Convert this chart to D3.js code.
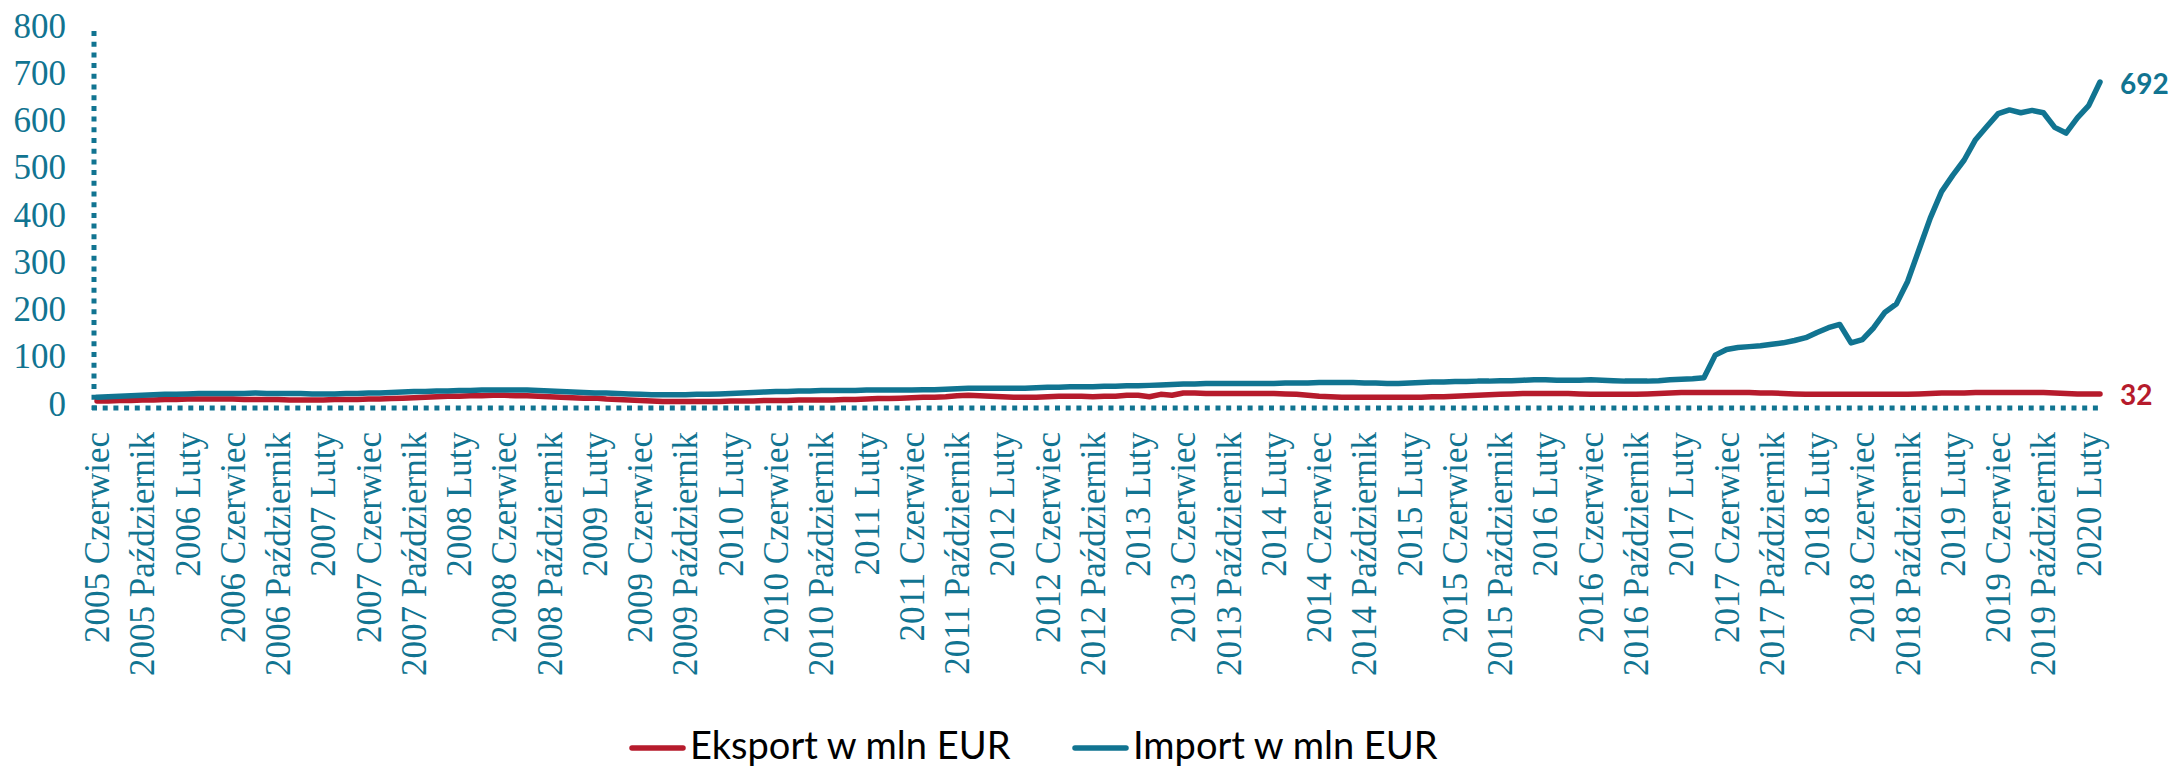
<!DOCTYPE html>
<html>
<head>
<meta charset="utf-8">
<script src="https://cdn.jsdelivr.net/npm/d3@7"></script>
<style>
  html, body { margin: 0; padding: 0; background: #ffffff; }
  svg { display: block; }
</style>
</head>
<body>
<div id="chart"></div>
<script>
// ---------- data ----------
const monthNames = ["Styczeń","Luty","Marzec","Kwiecień","Maj","Czerwiec","Lipiec","Sierpień","Wrzesień","Październik","Listopad","Grudzień"];
const startYear = 2005;
const startMonthIndex = 5;   // Czerwiec
const monthCount = 178;      // 2005 Czerwiec .. 2020 Marzec

const categories = d3.range(monthCount).map(i => {
  const m = startMonthIndex + i;
  return (startYear + Math.floor(m / 12)) + " " + monthNames[m % 12];
});

const importValues = [
  25,26,27,28,29,30,31,31,32,33,
  33,33,33,33,34,33,33,33,33,32,
  32,32,33,33,34,34,35,36,37,37,
  38,38,39,39,40,40,40,40,40,39,
  38,37,36,35,34,34,33,32,31,30,
  30,30,30,31,31,32,33,34,35,36,
  37,37,38,38,39,39,39,39,40,40,
  40,40,40,41,41,42,43,44,44,44,
  44,44,44,45,46,46,47,47,47,48,
  48,49,49,50,51,52,53,53,54,54,
  54,54,54,54,54,55,55,55,56,56,
  56,56,55,55,54,54,55,56,57,57,
  58,58,59,59,60,60,61,62,62,61,
  61,61,62,61,60,59,59,59,60,62,
  63,64,66,114,126,130,132,134,137,140,
  145,151,162,172,179,140,147,172,205,222,
  270,337,404,460,495,527,570,598,625,633,
  627,632,627,596,584,616,642,692
];

const exportValues = [
  17,17,18,18,19,19,20,20,21,21,
  21,21,21,20,20,20,20,19,19,19,
  19,20,20,20,21,21,22,23,24,25,
  26,27,27,28,28,29,29,28,28,27,
  26,25,24,23,23,21,20,19,18,17,
  16,16,16,16,16,16,17,17,17,18,
  18,18,19,19,19,19,20,20,21,22,
  22,23,24,25,25,26,28,29,28,27,
  26,25,25,25,26,27,27,27,26,27,
  27,29,29,26,31,29,34,34,33,33,
  33,33,33,33,33,32,31,29,27,26,
  25,25,25,25,25,25,25,25,26,26,
  27,28,29,30,31,32,33,33,33,33,
  33,32,31,31,31,31,31,32,33,34,
  35,35,35,35,35,35,35,34,34,33,
  32,31,31,31,31,31,31,31,31,31,
  31,32,33,34,34,34,35,35,35,35,
  35,35,35,34,33,32,32,32
];

const yTicks = [0,100,200,300,400,500,600,700,800];
const xTickLabels = categories.filter((c, i) => i % 4 === 0);
const seriesNames = ["Eksport w mln EUR", "Import w mln EUR"];

// ---------- style ----------
const W = 2174, H = 768;
const TEAL = "#117491";
const RED = "#B61B2C";

const svg = d3.select("#chart").append("svg")
  .attr("width", W).attr("height", H)
  .style("background", "#fff");

const x = d3.scalePoint().domain(categories).range([97, 2100]);
const y = d3.scaleLinear().domain([0, 800]).range([409, 31]);

const axisX0 = 94;      // y-axis position
const axisY0 = 408;     // x-axis position

// dotted axis lines
svg.append("line")
  .attr("x1", axisX0).attr("x2", axisX0)
  .attr("y1", y(800)).attr("y2", axisY0 + 2)
  .attr("stroke", TEAL).attr("stroke-width", 5)
  .attr("stroke-dasharray", "5 5.7");
svg.append("line")
  .attr("x1", axisX0 - 2).attr("x2", x.range()[1] + 3)
  .attr("y1", axisY0).attr("y2", axisY0)
  .attr("stroke", TEAL).attr("stroke-width", 5)
  .attr("stroke-dasharray", "5 5.7");

// y axis
const yAxis = svg.append("g")
  .attr("transform", `translate(${axisX0},0)`)
  .call(d3.axisLeft(y).tickValues(yTicks).tickSize(0).tickPadding(28).tickFormat(d3.format("d")));
yAxis.select(".domain").remove();
yAxis.selectAll("text")
  .attr("dy", "6px")
  .attr("fill", TEAL)
  .style("font-family", "'Liberation Serif', 'DejaVu Serif', serif")
  .style("font-size", "35px");

// x axis
const xAxis = svg.append("g")
  .attr("transform", `translate(0,${axisY0})`)
  .call(d3.axisBottom(x).tickValues(xTickLabels).tickSize(0));
xAxis.select(".domain").remove();
xAxis.selectAll("text")
  .attr("transform", "rotate(-90)")
  .attr("x", -24)
  .attr("y", 0)
  .attr("dy", "11.5px")
  .attr("text-anchor", "end")
  .attr("fill", TEAL)
  .style("font-family", "'Liberation Serif', 'DejaVu Serif', serif")
  .style("font-size", "35px");

// lines
const line = d3.line()
  .x((d, i) => x(categories[i]))
  .y(d => y(d));

svg.append("path")
  .datum(exportValues)
  .attr("d", line)
  .attr("fill", "none")
  .attr("stroke", RED)
  .attr("stroke-width", 5.5)
  .attr("stroke-linejoin", "round")
  .attr("stroke-linecap", "round");

svg.append("path")
  .datum(importValues)
  .attr("d", line)
  .attr("fill", "none")
  .attr("stroke", TEAL)
  .attr("stroke-width", 5.5)
  .attr("stroke-linejoin", "round")
  .attr("stroke-linecap", "round");

// end labels
const lastCat = categories[categories.length - 1];
function endLabel(value, color, dy) {
  svg.append("text")
    .attr("x", x(lastCat) + 20)
    .attr("y", y(value) + dy)
    .attr("fill", color)
    .attr("font-family", "Lato, 'Open Sans', 'Liberation Sans', sans-serif")
    .attr("font-weight", 700)
    .attr("font-size", 28)
    .text(String(value));
}
endLabel(importValues[importValues.length - 1], TEAL, 12);
endLabel(exportValues[exportValues.length - 1], RED, 11);

// legend
const legendItems = [
  { name: seriesNames[0], color: RED, x: 630 },
  { name: seriesNames[1], color: TEAL, x: 1073 }
];
const lg = svg.append("g");
legendItems.forEach(it => {
  lg.append("line")
    .attr("x1", it.x + 2).attr("x2", it.x + 53)
    .attr("y1", 748).attr("y2", 748)
    .attr("stroke", it.color).attr("stroke-width", 5.5)
    .attr("stroke-linecap", "round");
  lg.append("text")
    .attr("x", it.x + 60)
    .attr("y", 759)
    .attr("fill", "#000")
    .style("font-family", "Lato, 'Open Sans', sans-serif")
    .style("font-size", "38px")
    .text(it.name);
});
</script>
</body>
</html>
